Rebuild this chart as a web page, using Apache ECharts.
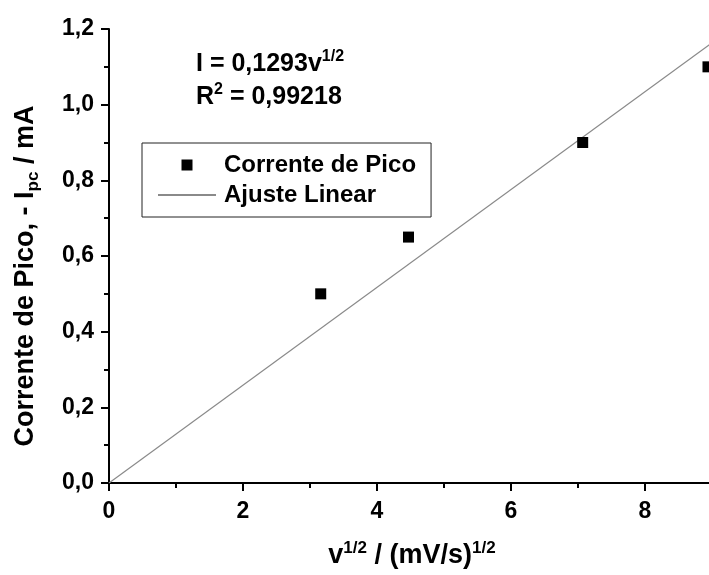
<!DOCTYPE html>
<html>
<head>
<meta charset="utf-8">
<script src="https://cdn.jsdelivr.net/npm/echarts@6/dist/echarts.min.js"></script>
<style>
html,body{margin:0;padding:0;background:#fff;}
#chart{width:709px;height:575px;}
</style>
</head>
<body>
<div id="chart"></div>
<script>
// Data
var sqrtV = [3.16, 4.47, 7.07, 8.94];          // v^1/2 / (mV/s)^1/2
var peakCurrent = [0.50, 0.65, 0.90, 1.10];    // -I_pc / mA
var fitX = [0, 10];
var fitY = [0, 1.293];
var seriesNames = ['Corrente de Pico', 'Ajuste Linear'];
var eqLine1 = 'I = 0,1293v';
var eqLine2 = ' = 0,99218';

var FONT = '"Liberation Sans", Arial, Helvetica, sans-serif';
var chart = echarts.init(document.getElementById('chart'));
function fmt(v){ return v.toFixed(1).replace('.', ','); }

var option = {
  backgroundColor: '#fff',
  animation: false,
  grid: { left: 109, top: 29, width: 670, height: 454, containLabel: false, outerBoundsMode: 'none' },
  xAxis: {
    type: 'value', min: 0, max: 10, interval: 2,
    axisLine: { show: true, onZero: false, lineStyle: { color: '#000', width: 2 } },
    axisTick: { show: true, inside: false, length: 8, lineStyle: { color: '#000', width: 2 } },
    minorTick: { show: true, splitNumber: 2, length: 5, lineStyle: { color: '#000', width: 2 } },
    splitLine: { show: false },
    axisLabel: { color: '#000', fontFamily: FONT, fontWeight: 'bold', fontSize: 23, margin: 17 }
  },
  yAxis: {
    type: 'value', min: 0, max: 1.2, interval: 0.2,
    axisLine: { show: true, onZero: false, lineStyle: { color: '#000', width: 2 } },
    axisTick: { show: true, inside: false, length: 8, lineStyle: { color: '#000', width: 2 } },
    minorTick: { show: true, splitNumber: 2, length: 5, lineStyle: { color: '#000', width: 2 } },
    splitLine: { show: false },
    axisLabel: { color: '#000', fontFamily: FONT, fontWeight: 'bold', fontSize: 23, margin: 15,
      formatter: function(v){ return fmt(v); } }
  },
  legend: {
    orient: 'vertical', left: 142, top: 143,
    padding: [10, 15, 10, 15],
    borderColor: '#222', borderWidth: 1,
    itemWidth: 58, itemHeight: 11, itemGap: 6,
    symbolKeepAspect: true,
    textStyle: { color: '#000', fontFamily: FONT, fontWeight: 'bold', fontSize: 24, padding: [0,0,0,3] },
    data: [
      { name: seriesNames[0], icon: 'path://M0,0h10v10h-10z', itemStyle: { color: '#000', opacity: 1 } },
      { name: seriesNames[1], icon: 'inherit', itemStyle: { opacity: 0 } }
    ]
  },
  series: [
    {
      name: seriesNames[0], type: 'scatter', symbol: 'rect', symbolSize: 11,
      itemStyle: { color: '#000', opacity: 1 },
      data: sqrtV.map(function(x, i){ return [x, peakCurrent[i]]; }),
      z: 5
    },
    {
      name: seriesNames[1], type: 'line', symbol: 'none', showSymbol: false,
      lineStyle: { color: '#8a8a8a', width: 1.2 },
      itemStyle: { color: '#8a8a8a' },
      data: fitX.map(function(x, i){ return [x, fitY[i]]; }),
      z: 3
    }
  ],
  graphic: [
    {
      type: 'text', left: 196, top: 49,
      style: {
        text: eqLine1 + '{sup|1/2}',
        font: 'bold 25px ' + FONT, fill: '#000',
        rich: { sup: { fontFamily: FONT, fontWeight: 'bold', fontSize: 16, fill: '#000', padding: [0,0,14,0] } }
      }
    },
    {
      type: 'text', left: 196, top: 82,
      style: {
        text: 'R{sup|2}' + eqLine2,
        font: 'bold 25px ' + FONT, fill: '#000',
        rich: { sup: { fontFamily: FONT, fontWeight: 'bold', fontSize: 16, fill: '#000', padding: [0,0,14,0] } }
      }
    },
    {
      type: 'text', x: 26, y: 276, rotation: Math.PI / 2,
      style: {
        text: 'Corrente de Pico, - I{sub|pc} / mA',
        font: 'bold 27px ' + FONT, fill: '#000',
        align: 'center', verticalAlign: 'middle',
        rich: { sub: { fontFamily: FONT, fontWeight: 'bold', fontSize: 17, fill: '#000', padding: [15,0,0,0] } }
      }
    },
    {
      type: 'text', x: 412, y: 556,
      style: {
        text: 'v{sup|1/2} / (mV/s){sup|1/2}',
        font: 'bold 27px ' + FONT, fill: '#000',
        align: 'center', verticalAlign: 'middle',
        rich: { sup: { fontFamily: FONT, fontWeight: 'bold', fontSize: 17, fill: '#000', padding: [0,0,15,0] } }
      }
    }
  ]
};
chart.setOption(option);
</script>
</body>
</html>
